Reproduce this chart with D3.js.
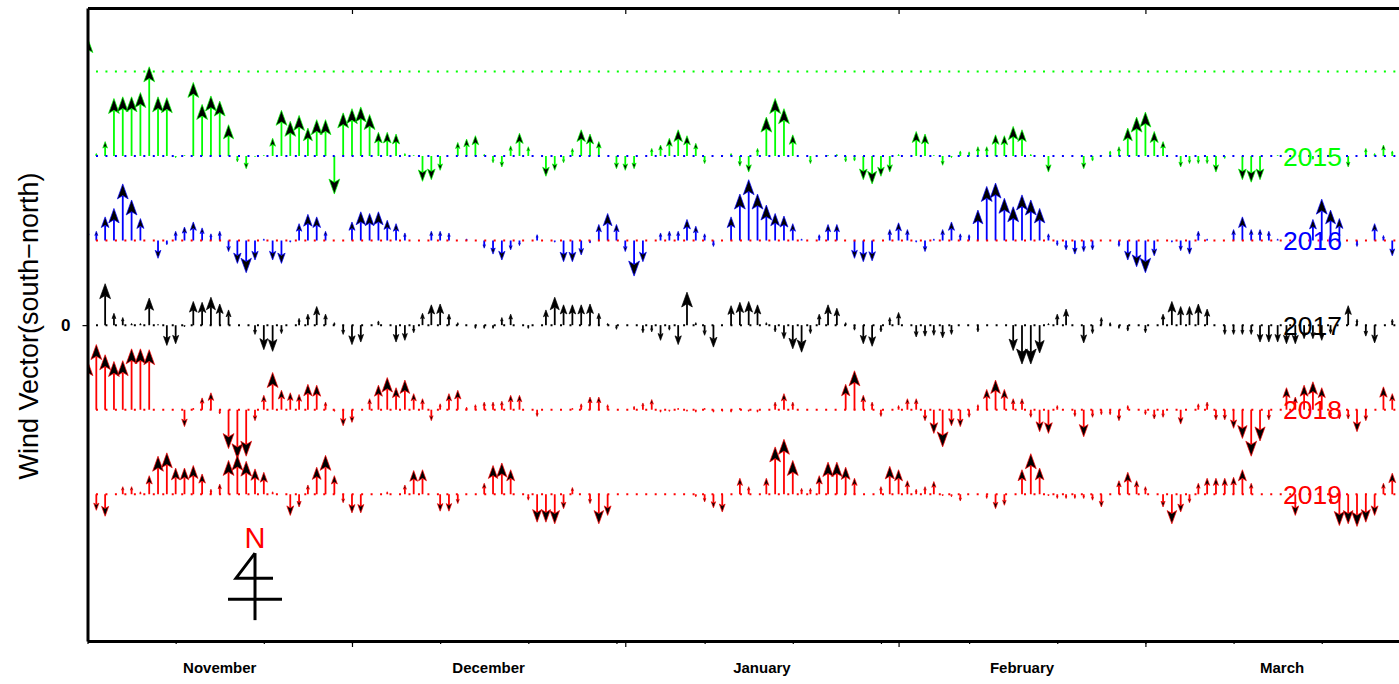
<!DOCTYPE html>
<html>
<head>
<meta charset="utf-8">
<script src="https://cdn.jsdelivr.net/npm/d3@7"></script>
<style>
  body { margin: 0; background: #fff; }
  svg { display: block; }
  text { font-family: "Liberation Sans", Arial, Helvetica, sans-serif; }
</style>
</head>
<body>
<div id="chart"></div>
<script>
// daily south-north wind component, index 0 = 1 November
var v2015 = [14.0, 0.3, 1.7, 6.8, 7.0, 7.0, 7.5, 10.55, 7.0, 6.9,
  -0.2, 0.1, 8.7, 6.1, 7.1, 6.5, 3.7, -0.7, -1.5, -0.1,
  0.1, 2.1, 5.4, 4.1, 4.8, 3.3, 4.3, 4.3, -4.5, 5.1,
  5.6, 5.8, 4.9, 2.8, 2.8, 2.6, 0.3, 0.1, -3.0, -2.8,
  -1.7, 0, 1.6, 2.0, 2.4, 0.2, -0.8, -1.3, 1.2, 2.7,
  1.1, 0, -2.4, -1.7, -0.8, 0.9, 3.1, 2.6, 1.7, 0,
  -1.5, -1.7, -1.5, 0, 0.9, 1.3, 2.1, 3.1, 2.4, 1.5,
  -0.9, 0, 0.1, 0.3, -1.2, -1.9, 0.9, 4.6, 6.8, 5.6,
  2.5, 0, -0.9, 0, 0.1, 0.2, -0.7, -0.6, -2.8, -3.3,
  -2.4, -1.9, 0.2, 0, 2.9, 2.6, 0.1, -1.1, -0.2, 0.6,
  0.5, 1.1, 1.1, 2.5, 2.4, 3.5, 3.1, 0.2, 0, -1.9,
  0, 0, 0, -1.5, -0.6, 0.1, 0.6, 1.1, 3.3, 4.6,
  5.2, 2.9, 1.7, 0, -1.3, -0.9, -0.9, -0.9, -1.9, -0.3,
  0, -2.8, -3.1, -2.8, 0, 0.1, 0, 0, 0, -0.4,
  0, 0, 0, -1.3, 0, 0.9, 0.3, 1.3, 0.6];

var v2016 = [1.2, 1.1, 2.8, 3.8, 6.7, 4.8, 2.6, 0, -2.1, -0.5,
  1.1, 1.6, 2.2, 1.5, 0.8, 1.1, -1.3, -2.7, -3.8, -2.3,
  0.2, -2.3, -2.7, -0.2, 2.0, 3.1, 2.8, 1.1, 0, 0,
  2.2, 3.4, 3.2, 3.4, 2.4, 2.0, 0.9, 0, 0, 1.1,
  1.1, 0.9, 0, 0.2, 0, -0.9, -1.6, -2.3, -1.1, -0.6,
  0, 0.7, 0, -0.2, -2.5, -2.5, -1.7, -0.3, 1.9, 3.2,
  1.9, -1.3, -4.2, -2.5, 0, 0.9, 1.1, 1.1, 2.5, 1.7,
  0.8, -0.7, 0, 2.8, 5.5, 7.2, 5.5, 4.2, 3.2, 2.9,
  2.0, 0.2, 0, 0.7, 1.9, 1.9, 0, -2.1, -2.5, -2.4,
  0, 1.3, 2.1, 1.3, -0.2, -1.3, 0.2, 1.3, 2.2, 0.8,
  0.7, 3.6, 6.4, 6.8, 5.0, 4.0, 5.4, 4.8, 3.8, 0.8,
  -0.6, -1.1, -1.6, -1.3, -1.1, 0, 0, -0.7, -2.3, -3.1,
  -3.8, -1.8, 0, -0.2, -1.2, -1.6, 1.1, 0.2, 0, 0,
  1.3, 2.8, 1.3, 1.3, 1.1, 0.2, 0, 0, 0, 2.5,
  4.9, 3.6, 2.6, 0, -0.7, 0, 2.0, 0.6, -1.8];

var v2017 = [0, 0, 4.9, 1.4, 0.9, 0.2, 0.2, 3.2, 0.1, -2.4,
  -2.2, -0.2, 2.8, 2.7, 3.3, 2.5, 1.8, 0, 0, -1.1,
  -2.9, -3.1, -1.0, 0, 0.8, 1.3, 2.2, 1.3, 0.3, -1.1,
  -2.3, -2.0, 0, 0.5, 0, -2.0, -1.8, -0.9, 1.4, 2.4,
  2.5, 1.3, 0.3, 0, -0.4, -0.4, -0.4, 0.9, 1.3, 0,
  -0.4, 0, 1.8, 3.3, 2.4, 2.4, 2.4, 2.5, 1.4, 0.2,
  -0.5, 0, 0, -0.9, -0.8, -1.8, -0.6, -2.3, 3.9, 0.3,
  -1.2, -2.6, 0, 2.3, 2.7, 2.8, 2.4, 0.3, -0.8, -1.6,
  -2.8, -3.2, -1.0, 1.3, 2.4, 2.0, 0.3, -0.6, -2.2, -2.5,
  -0.8, 0.9, 1.5, 0, -1.4, -1.3, -1.2, -1.5, -1.1, 0,
  0, -0.8, 0, 0, 0, -3.0, -4.6, -4.6, -3.3, 0.2,
  1.3, 1.9, 0, -2.1, -1.0, 0.9, 0.3, -0.4, -0.7, 0,
  -0.9, 0, 1.3, 2.8, 2.2, 2.2, 2.5, 1.9, 0, -1.1,
  -1.1, -1.1, -1.1, -2.0, -2.0, -2.0, -2.2, -2.2, -1.6, -1.6,
  -1.8, -1.0, 0, 2.3, 0.7, -1.3, -2.1, 0, 0.7];

var v2018 = [5.8, 7.7, 6.5, 5.7, 5.8, 7.2, 7.2, 7.1, 0, 0,
  0, -2.0, 0.2, 1.4, 2.0, -0.5, -4.6, -5.8, -5.5, -1.3,
  1.7, 4.4, 2.3, 2.0, 1.8, 3.0, 2.9, 0.9, -0.2, -1.9,
  -1.5, 0, 1.3, 2.9, 3.8, 2.6, 3.5, 1.9, 1.3, -1.3,
  0.7, 1.9, 2.3, 0.3, 0.6, 0.9, 0.9, 1.0, 1.7, 1.7,
  0, -0.8, 0, 0, 0, 0.2, 0.7, 1.5, 1.5, 0.6,
  0, 0, 0.4, 0.8, 1.2, -0.3, -0.2, 0.2, -0.2, -0.3,
  0.2, -0.3, -0.2, -0.3, 0.2, -0.2, -0.3, 0, 0.9, 1.9,
  0.9, 0, 0, 0, 0, 0, 3.0, 4.6, 1.7, 0.9,
  -0.8, 0, 0.5, 1.3, 1.3, -1.3, -2.8, -4.4, -1.9, -2.0,
  -0.9, 0.6, 2.4, 3.5, 2.4, 1.3, 1.3, -0.9, -2.6, -2.8,
  0.5, 0, -0.8, -3.2, -0.9, -0.6, -0.6, -1.3, 0.5, 0,
  -0.6, -1.1, -0.9, 0, -1.7, 0, 0.7, 0.9, -1.2, -1.2,
  -2.2, -3.4, -5.5, -3.7, -1.2, 0, 2.6, 1.5, 2.9, 3.3,
  2.6, -0.8, -1.1, -1.1, -2.6, -1.3, 0, 2.7, 1.9];

var v2019 = [0, -1.9, -2.6, 0, 0.9, 0.9, 0.3, 2.2, 4.5, 4.9,
  3.1, 3.1, 3.4, 2.4, 0.6, 1.2, 4.0, 4.6, 3.9, 3.0,
  2.6, 0.3, 0, -2.5, -1.5, 1.1, 3.2, 4.6, 2.2, -1.0,
  -2.2, -2.2, 0, 0, 0.3, 0, 1.1, 2.8, 2.9, 0,
  -2.0, -2.0, -1.1, 0, 0, 1.3, 3.4, 3.7, 2.9, 0,
  -0.7, -3.3, -3.3, -3.5, -1.7, 0.8, 0, -1.1, -3.5, -2.5,
  0, 0, 0, 0, 0, 0, 0, 0, 0, -0.3,
  -0.9, -1.6, -2.1, 0, 1.9, 0.9, 0, 1.9, 5.6, 6.5,
  4.0, 0.7, 0.7, 2.2, 3.8, 3.8, 3.2, 1.9, 0, 0,
  0.9, 3.3, 2.9, 1.6, 0.6, 0.9, 1.5, -0.2, -0.3, -0.8,
  0, 0, -0.5, -1.7, -1.3, 0, 2.9, 4.8, 3.1, -0.2,
  -0.5, -0.5, -0.5, -0.5, -0.7, -1.5, 0, 1.6, 2.6, 1.6,
  0.9, 0, -1.5, -3.5, -2.1, -1.0, 1.3, 1.9, 1.9, 1.9,
  2.0, 2.9, 1.3, 0, 0, 0, 0, -2.5, 0, 0,
  0, -1.1, -3.7, -3.5, -3.8, -3.3, -2.5, 1.3, 2.5];

var years = ["2015", "2016", "2017", "2018", "2019"];
var yearValues = [v2015, v2016, v2017, v2018, v2019];
var yearOffsets = [20, 10, 0, -10, -20];
var yearColors = ["#00ff00", "#0000ff", "#000000", "#ff0000", "#ff0000"];

// dotted reference lines (offset, colour)
var refOffsets = [30, 20, 10, 0, -10, -20];
var refColors = ["#00ff00", "#0000ff", "#ff0000", "#000000", "#ff0000", "#ff0000"];

var monthNames = ["November", "December", "January", "February", "March"];
var monthStart = [0, 30, 61, 92, 120];
var monthDays = [30, 31, 31, 28, 31];
var dayTicks = [0, 10, 20, 30, 40, 50, 60, 70, 80, 90, 100, 110, 120, 130, 140, 150];

var W = 1399, H = 684;
var margin = {left: 87.5, top: 8, bottom: 43};
var pxPerDay = 8.816;
var dayMax = 152;

var svg = d3.select("#chart").append("svg")
    .attr("width", W)
    .attr("height", H);

var x = d3.scaleLinear()
    .domain([0, dayMax])
    .range([margin.left, margin.left + dayMax * pxPerDay]);

var y = d3.scaleLinear()
    .domain([-37.35, 37.5])
    .range([H - margin.bottom, margin.top]);

svg.append("clipPath").attr("id", "plotclip")
  .append("rect")
    .attr("x", margin.left + 1)
    .attr("y", margin.top)
    .attr("width", W)
    .attr("height", H - margin.bottom - margin.top);

var plot = svg.append("g").attr("clip-path", "url(#plotclip)");

// arrows
yearValues.forEach(function(vals, s) {
    var base = y(yearOffsets[s]);
    var col = yearColors[s];
    var g = plot.append("g");
    vals.forEach(function(v, i) {
        var tip = y(yearOffsets[s] + v);
        var L = base - tip;
        var aL = Math.abs(L);
        if (aL < 0.8) return;
        var dir = L > 0 ? 1 : -1;
        var cx = x(i);
        var h = Math.min(0.45 * aL, 15);
        var w = h * 0.72;
        g.append("line")
            .attr("x1", cx).attr("x2", cx)
            .attr("y1", base)
            .attr("y2", tip + dir * h * 0.8)
            .attr("stroke", col)
            .attr("stroke-width", 1.8);
        var p = "M" + cx + "," + tip +
            "L" + (cx - w / 2) + "," + (tip + dir * h) +
            "L" + cx + "," + (tip + dir * h * 0.78) +
            "L" + (cx + w / 2) + "," + (tip + dir * h) + "Z";
        g.append("path")
            .attr("d", p)
            .attr("fill", "#000")
            .attr("stroke", col)
            .attr("stroke-width", 0.7)
            .attr("stroke-linejoin", "miter");
    });
});

// dotted reference lines
refOffsets.forEach(function(o, j) {
    plot.append("line")
        .attr("x1", margin.left - 1)
        .attr("x2", W + 20)
        .attr("y1", y(o)).attr("y2", y(o))
        .attr("stroke", refColors[j])
        .attr("stroke-width", 2)
        .attr("stroke-dasharray", "2,7.47");
});

// year labels
years.forEach(function(name, s) {
    svg.append("text")
        .attr("x", x(135.6))
        .attr("y", y(yearOffsets[s]))
        .attr("dy", "0.36em")
        .attr("fill", yearColors[s])
        .attr("font-size", 26.5)
        .text(name);
});

// north marker
var nx = x(19), ny = y(-32.4);
var north = svg.append("g")
    .attr("stroke", "#000")
    .attr("stroke-width", 3)
    .attr("fill", "none");
north.append("line").attr("x1", nx).attr("x2", nx).attr("y1", ny - 46).attr("y2", ny + 21);
north.append("line").attr("x1", nx - 27).attr("x2", nx + 27).attr("y1", ny).attr("y2", ny);
north.append("polyline")
    .attr("points", [[nx, ny - 46], [nx - 19, ny - 21], [nx + 18, ny - 21]].join(" "));
svg.append("text")
    .attr("x", nx)
    .attr("y", ny - 51)
    .attr("text-anchor", "middle")
    .attr("fill", "#ff0000")
    .attr("font-size", 29)
    .text("N");

// axes
var axisG = svg.append("g");

axisG.append("g")
    .attr("transform", "translate(0," + y.range()[0] + ")")
    .call(d3.axisBottom(x).tickValues(dayTicks).tickSize(3).tickSizeOuter(0).tickFormat(""));
axisG.append("g")
    .attr("transform", "translate(0," + y.range()[0] + ")")
    .call(d3.axisBottom(x).tickValues(monthStart.slice(1)).tickSize(6).tickSizeOuter(0).tickFormat(""))
    .select(".domain").remove();
axisG.append("g")
    .attr("transform", "translate(0," + margin.top + ")")
    .call(d3.axisTop(x).tickValues(monthStart.slice(1)).tickSize(-6).tickSizeOuter(0).tickFormat(""));
var left = axisG.append("g")
    .attr("transform", "translate(" + margin.left + ",0)")
    .call(d3.axisLeft(y).tickValues([0]).tickSize(5).tickSizeOuter(0).tickPadding(12));

axisG.selectAll(".domain").attr("stroke-width", 3).attr("stroke", "#000");
axisG.selectAll(".tick line").attr("stroke-width", 1.2);
left.attr("font-size", null);
left.selectAll(".tick text")
    .style("font-size", "17px")
    .style("font-weight", "bold");

// month names centred in each month
svg.append("g").selectAll("text")
    .data(monthNames)
    .enter()
    .append("text")
        .attr("x", function(d, i) { return x(monthStart[i] + monthDays[i] / 2); })
        .attr("y", 673)
        .attr("text-anchor", "middle")
        .attr("font-size", 15)
        .attr("font-weight", "bold")
        .text(function(d) { return d; });

// y label
svg.append("text")
    .attr("transform", "translate(38,326) rotate(-90)")
    .attr("text-anchor", "middle")
    .attr("font-size", 27)
    .text("Wind Vector(south\u2212north)");
</script>
</body>
</html>
